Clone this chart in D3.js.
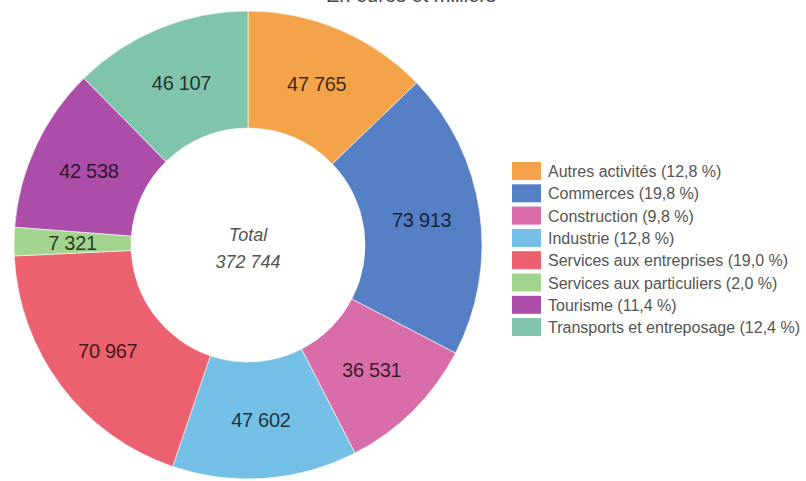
<!DOCTYPE html>
<html>
<head>
<meta charset="utf-8">
<script src="https://cdn.jsdelivr.net/npm/d3@7"></script>
<style>
  html, body { margin: 0; padding: 0; background: #fff; }
  svg { display: block; font-family: "Liberation Sans", Arial, sans-serif; }
</style>
</head>
<body>
<svg id="chart" width="806" height="481"></svg>
<script>
const titleText = "En euros et milliers";
const categories = ["Autres activités", "Commerces", "Construction", "Industrie",
  "Services aux entreprises", "Services aux particuliers", "Tourisme", "Transports et entreposage"];
const values = [47765, 73913, 36531, 47602, 70967, 7321, 42538, 46107];
const colors = ["#F5A34B", "#5680C6", "#D96DA9", "#73BFE5", "#EC616F", "#A3D48D", "#AC4DAA", "#80C4AB"];

const svg = d3.select("#chart");
const W = 806, H = 481;
const cx = 248, cy = 245, rOuter = 234, rInner = 117;

const fmt = v => d3.format(",")(v).replace(/,/g, " ");
const total = d3.sum(values);
const pctFmt = v => (Math.round(v / total * 1000) / 10).toFixed(1).replace(".", ",") + " %";

const data = categories.map((c, i) => ({ cat: c, value: values[i], color: colors[i] }));

// title (cut off at top, as in the reference)
svg.append("text")
  .attr("x", 411).attr("y", 2)
  .attr("text-anchor", "middle")
  .attr("font-size", 20)
  .attr("fill", "#444")
  .text(titleText);

const pie = d3.pie().value(d => d.value).sort(null);
const arc = d3.arc().innerRadius(rInner).outerRadius(rOuter);
const arcs = pie(data);

const g = svg.append("g").attr("transform", `translate(${cx},${cy})`);

g.selectAll("path.slice").data(arcs).enter().append("path")
  .attr("class", "slice")
  .attr("d", arc)
  .attr("fill", d => d.data.color)
  .attr("stroke", "#fff")
  .attr("stroke-opacity", 0.6)
  .attr("stroke-width", 1);

g.selectAll("text.lbl").data(arcs).enter().append("text")
  .attr("class", "lbl")
  .attr("transform", d => `translate(${arc.centroid(d)})`)
  .attr("text-anchor", "middle")
  .attr("dy", "0.36em")
  .attr("font-size", 20)
  .attr("fill", "#000")
  .attr("fill-opacity", 0.75)
  .attr("letter-spacing", "-0.3")
  .text(d => fmt(d.data.value));

// center text
g.append("text")
  .attr("x", 0).attr("y", -4)
  .attr("text-anchor", "middle")
  .attr("font-size", 18)
  .attr("font-style", "italic")
  .attr("fill", "#555")
  .text("Total");
g.append("text")
  .attr("x", 0).attr("y", 23)
  .attr("text-anchor", "middle")
  .attr("font-size", 18)
  .attr("font-style", "italic")
  .attr("fill", "#555")
  .text(fmt(total));

// legend
const lx = 512, ly = 162, rowH = 22.3;
const leg = svg.append("g").attr("transform", `translate(${lx},${ly})`);
const rows = leg.selectAll("g.row").data(data).enter().append("g")
  .attr("class", "row")
  .attr("transform", (d, i) => `translate(0,${i * rowH})`);
rows.append("rect")
  .attr("width", 29).attr("height", 18)
  .attr("fill", d => d.color);
rows.append("text")
  .attr("x", 36).attr("y", 15)
  .attr("font-size", 16)
  .attr("fill", "#555")
  .text(d => `${d.cat} (${pctFmt(d.value)})`);
</script>
</body>
</html>
